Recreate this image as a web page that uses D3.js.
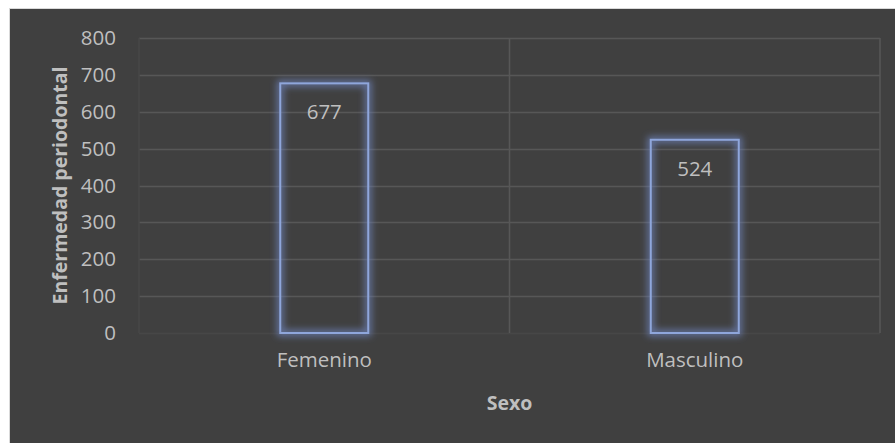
<!DOCTYPE html>
<html>
<head>
<meta charset="utf-8">
<script src="https://cdn.jsdelivr.net/npm/d3@7"></script>
<style>
  body { margin: 0; background: #fff; }
  text { font-family: "Open Sans", sans-serif; }
</style>
</head>
<body>
<div id="chart"></div>
<script>
const categories = ["Femenino", "Masculino"];
const values = [677, 524];
const yTicks = [0, 100, 200, 300, 400, 500, 600, 700, 800];
const xTitle = "Sexo";
const yTitle = "Enfermedad periodontal";

const W = 895, H = 443;
const plot = {left: 139, right: 880, top: 38, bottom: 333};

const svg = d3.select("#chart")
  .append("svg")
    .attr("width", W)
    .attr("height", H);

// glow for the bar outline
const defs = svg.append("defs");
const glow = defs.append("filter")
    .attr("id", "glow")
    .attr("x", "-30%").attr("y", "-30%")
    .attr("width", "160%").attr("height", "160%");
glow.append("feGaussianBlur")
    .attr("stdDeviation", 3.5);

// chart background
svg.append("rect")
    .attr("x", 9.5).attr("y", 8.5)
    .attr("width", W).attr("height", H)
    .attr("fill", "#404040")
    .attr("stroke", "#d9d9d9")
    .attr("stroke-width", 1);

const x = d3.scaleBand()
    .domain(categories)
    .range([plot.left, plot.right]);
const y = d3.scaleLinear()
    .domain([0, 800])
    .range([plot.bottom, plot.top]);

// horizontal gridlines
svg.append("g")
  .selectAll("line")
  .data(yTicks)
  .join("line")
    .attr("x1", plot.left)
    .attr("x2", plot.right)
    .attr("y1", d => Math.round(y(d)) + 0.5)
    .attr("y2", d => Math.round(y(d)) + 0.5)
    .attr("stroke", d => d === 0 ? "#474747" : "#575757")
    .attr("stroke-width", 1.5);

// vertical gridlines at category borders
const borders = [plot.left, plot.left + x.bandwidth(), plot.right];
svg.append("g")
  .selectAll("line")
  .data(borders)
  .join("line")
    .attr("x1", d => d)
    .attr("x2", d => d)
    .attr("y1", plot.top)
    .attr("y2", plot.bottom)
    .attr("stroke", (d, i) => i === 0 ? "#474747" : "#575757")
    .attr("stroke-width", 1.5);

// y axis tick labels
const yAxis = svg.append("g")
    .attr("transform", `translate(${plot.left - 23}, 0)`)
    .call(d3.axisLeft(y).tickValues(yTicks).tickSize(0).tickPadding(0));
yAxis.select(".domain").remove();
yAxis.selectAll("text")
    .attr("fill", "#bfbfbf")
    .style("font-size", "20.5px")
    .style("font-family", "'Open Sans', sans-serif");

// x axis labels
const xAxis = svg.append("g")
    .attr("transform", `translate(0, ${plot.bottom})`)
    .call(d3.axisBottom(x).tickSize(0).tickPadding(19));
xAxis.select(".domain").remove();
xAxis.selectAll("text")
    .attr("fill", "#bfbfbf")
    .style("font-size", "20.5px")
    .style("font-family", "'Open Sans', sans-serif");

// bars
const barW = 88;
const bars = svg.append("g");
bars.selectAll("rect.glow")
  .data(values)
  .join("rect")
    .attr("class", "glow")
    .attr("x", (d, i) => x(categories[i]) + x.bandwidth() / 2 - barW / 2)
    .attr("y", d => y(d))
    .attr("width", barW)
    .attr("height", d => y(0) - y(d))
    .attr("fill", "none")
    .attr("stroke", "#6f86c0")
    .attr("stroke-width", 6)
    .attr("stroke-opacity", 0.8)
    .attr("filter", "url(#glow)");
bars.selectAll("rect.bar")
  .data(values)
  .join("rect")
    .attr("class", "bar")
    .attr("x", (d, i) => x(categories[i]) + x.bandwidth() / 2 - barW / 2)
    .attr("y", d => y(d))
    .attr("width", barW)
    .attr("height", d => y(0) - y(d))
    .attr("fill", "none")
    .attr("stroke", "#8fa6db")
    .attr("stroke-width", 2);

// value labels
svg.append("g")
  .selectAll("text")
  .data(values)
  .join("text")
    .attr("x", (d, i) => x(categories[i]) + x.bandwidth() / 2)
    .attr("y", d => y(d) + 36)
    .attr("text-anchor", "middle")
    .attr("fill", "#bfbfbf")
    .style("font-size", "20.5px")
    .text(d => d);

// axis titles
svg.append("text")
    .attr("x", (plot.left + plot.right) / 2)
    .attr("y", 410)
    .attr("text-anchor", "middle")
    .attr("fill", "#bfbfbf")
    .style("font-size", "19.5px")
    .style("font-weight", "bold")
    .text(xTitle);

svg.append("text")
    .attr("transform", `translate(67, ${(plot.top + plot.bottom) / 2}) rotate(-90)`)
    .attr("text-anchor", "middle")
    .attr("fill", "#bfbfbf")
    .style("font-size", "19.5px")
    .style("font-weight", "bold")
    .text(yTitle);
</script>
</body>
</html>
